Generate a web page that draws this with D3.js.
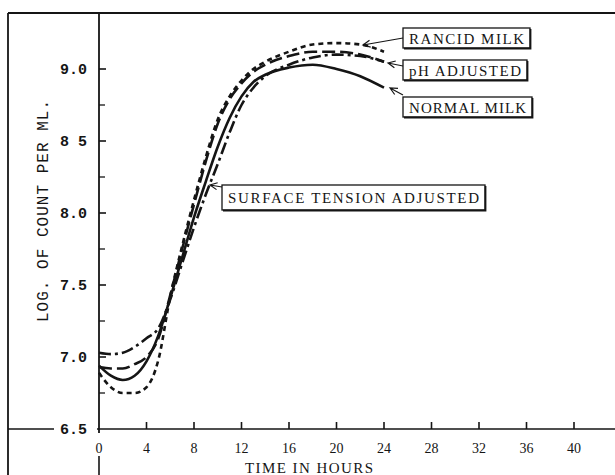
<!DOCTYPE html>
<html>
<head>
<meta charset="utf-8">
<script src="https://cdn.jsdelivr.net/npm/d3@7"></script>
<style>
  html, body { margin: 0; padding: 0; background: #fff; }
  svg { display: block; }
</style>
</head>
<body>
<script>
// ---- data ----
const hours   = [0, 1, 2, 3, 4, 5, 6, 7, 8, 9, 10, 11, 12, 13, 14, 16, 18, 20, 22, 24];
const rancid  = [6.89, 6.79, 6.75, 6.75, 6.79, 6.98, 7.42, 7.77, 8.09, 8.39, 8.65, 8.81, 8.92, 9.00, 9.05, 9.12, 9.17, 9.18, 9.17, 9.12];
const phAdj   = [6.93, 6.92, 6.92, 6.95, 7.00, 7.13, 7.43, 7.75, 8.06, 8.36, 8.62, 8.79, 8.90, 8.98, 9.03, 9.09, 9.12, 9.12, 9.10, 9.05];
const normal  = [6.94, 6.87, 6.84, 6.87, 6.97, 7.15, 7.41, 7.69, 7.97, 8.22, 8.46, 8.66, 8.81, 8.91, 8.96, 9.01, 9.03, 9.00, 8.95, 8.87];
const surface = [7.03, 7.02, 7.03, 7.07, 7.13, 7.20, 7.40, 7.65, 7.90, 8.13, 8.34, 8.56, 8.75, 8.87, 8.95, 9.03, 9.08, 9.10, 9.09, 9.05];

const seriesNames = ["RANCID MILK", "pH ADJUSTED", "NORMAL MILK", "SURFACE TENSION ADJUSTED"];
const xTickValues = [0, 4, 8, 12, 16, 20, 24, 28, 32, 36, 40];
const yTickValues = [6.5, 7.0, 7.5, 8.0, 8.5, 9.0];
const yTickLabels = ["6.5", "7.0", "7.5", "8.0", "8 5", "9.0"];
const yMinorTicks = [6.75, 7.25, 7.75, 8.25, 8.75];
const xTitle = "TIME IN HOURS";
const yTitle = "LOG. OF COUNT PER ML.";

// ---- layout ----
const W = 615, H = 475;
const ink = "#151515";
const svg = d3.select("body").append("svg").attr("width", W).attr("height", H);
svg.append("rect").attr("width", W).attr("height", H).attr("fill", "#fff");

const x = d3.scaleLinear().domain([0, 40]).range([99, 574]);
const y = d3.scaleLinear().domain([6.5, 9.0]).range([429, 69]);

// frame
svg.append("line").attr("x1", 8).attr("x2", W).attr("y1", 13).attr("y2", 13).attr("stroke", ink).attr("stroke-width", 1.8);
svg.append("line").attr("x1", 8).attr("x2", 8).attr("y1", 13).attr("y2", H).attr("stroke", ink).attr("stroke-width", 1.8);

// axes lines
svg.append("line").attr("x1", x(0)).attr("x2", x(0)).attr("y1", 13).attr("y2", y(6.5) + 4).attr("stroke", ink).attr("stroke-width", 1.8);
svg.append("line").attr("x1", x(0)).attr("x2", x(0)).attr("y1", 456).attr("y2", H).attr("stroke", ink).attr("stroke-width", 1.6);
svg.append("line").attr("x1", x(0) - 2).attr("x2", W).attr("y1", y(6.5)).attr("y2", y(6.5)).attr("stroke", ink).attr("stroke-width", 1.6);
svg.append("line").attr("x1", 8).attr("x2", 54).attr("y1", y(6.5)).attr("y2", y(6.5)).attr("stroke", ink).attr("stroke-width", 1.6);

// y ticks
svg.selectAll(".ytick").data(yTickValues.slice(1)).enter().append("line")
  .attr("x1", x(0)).attr("x2", x(0) + 7)
  .attr("y1", d => y(d)).attr("y2", d => y(d))
  .attr("stroke", ink).attr("stroke-width", 1.6);
svg.selectAll(".ymin").data(yMinorTicks).enter().append("line")
  .attr("x1", x(0)).attr("x2", x(0) + 6)
  .attr("y1", d => y(d)).attr("y2", d => y(d))
  .attr("stroke", ink).attr("stroke-width", 1.3);
svg.selectAll(".ylab").data(yTickValues).enter().append("text")
  .attr("x", 87).attr("y", d => y(d) + 5)
  .attr("text-anchor", "end")
  .attr("font-family", "'Liberation Mono', 'DejaVu Sans Mono', monospace")
  .attr("font-size", 15).attr("font-weight", "bold").attr("fill", ink)
  .text((d, i) => yTickLabels[i]);

// x ticks
svg.selectAll(".xtick").data(xTickValues.slice(1)).enter().append("line")
  .attr("x1", d => x(d)).attr("x2", d => x(d))
  .attr("y1", y(6.5)).attr("y2", y(6.5) - 7)
  .attr("stroke", ink).attr("stroke-width", 1.6);
svg.selectAll(".xlab").data(xTickValues).enter().append("text")
  .attr("x", d => x(d)).attr("y", 453)
  .attr("text-anchor", "middle")
  .attr("font-family", "'Liberation Serif', serif")
  .attr("font-size", 14).attr("fill", ink)
  .text(d => d);

// axis titles
svg.append("text").attr("x", 309).attr("y", 473)
  .attr("text-anchor", "middle")
  .attr("font-family", "'Liberation Serif', serif")
  .attr("font-size", 15).attr("fill", ink)
  .attr("textLength", 128).attr("lengthAdjust", "spacing")
  .text(xTitle);
svg.append("text")
  .attr("transform", "translate(48,211) rotate(-90)")
  .attr("text-anchor", "middle")
  .attr("font-family", "'Liberation Mono', 'DejaVu Sans Mono', monospace")
  .attr("font-size", 16).attr("fill", ink)
  .attr("textLength", 222).attr("lengthAdjust", "spacing")
  .text(yTitle);

// curves
const series = [
  { vals: rancid,  dash: "5,4" },
  { vals: phAdj,   dash: "13,5" },
  { vals: normal,  dash: null },
  { vals: surface, dash: "12,4,3,4" }
];
const line = d3.line()
  .x((d, i) => x(hours[i]))
  .y(d => y(d))
  .curve(d3.curveMonotoneX);
series.forEach(s => {
  svg.append("path").datum(s.vals)
    .attr("d", line)
    .attr("fill", "none")
    .attr("stroke", ink)
    .attr("stroke-width", 2.6)
    .attr("stroke-dasharray", s.dash);
});

// annotations (label boxes + arrows)
const boxes = [
  { name: seriesNames[0], bx: 403, by: 28, bw: 127, bh: 20, tail: [403, 38], tip: [363, 45] },
  { name: seriesNames[1], bx: 403, by: 60, bw: 124, bh: 20, tail: [403, 66], tip: [388, 63] },
  { name: seriesNames[2], bx: 403, by: 97, bw: 129, bh: 20, tail: [403, 95], tip: [390, 88] },
  { name: seriesNames[3], bx: 222, by: 185, bw: 263, bh: 25, tail: [222, 187], tip: [210, 185] }
];
boxes.forEach(b => {
  svg.append("rect").attr("x", b.bx).attr("y", b.by).attr("width", b.bw).attr("height", b.bh)
    .attr("fill", "#fff").attr("stroke", ink).attr("stroke-width", 1.3);
  svg.append("path")
    .attr("d", `M${b.bx + b.bw + 0.5},${b.by + 1}V${b.by + b.bh + 0.5}H${b.bx + 1}`)
    .attr("fill", "none").attr("stroke", ink).attr("stroke-width", 1.8);
  const pad = 6;
  svg.append("text")
    .attr("x", b.bx + pad).attr("y", b.by + b.bh / 2 + 5.5)
    .attr("font-family", "'Liberation Serif', serif")
    .attr("font-size", 15).attr("fill", ink)
    .attr("textLength", b.bw - 2 * pad).attr("lengthAdjust", "spacing")
    .text(b.name);
  // arrow
  const [x1, y1] = b.tail, [x2, y2] = b.tip;
  const ang = Math.atan2(y1 - y2, x1 - x2);
  const L = 8, a = 0.45;
  const p1 = [x2 + L * Math.cos(ang + a), y2 + L * Math.sin(ang + a)];
  const p2 = [x2 + L * Math.cos(ang - a), y2 + L * Math.sin(ang - a)];
  svg.append("path")
    .attr("d", `M${x1},${y1}L${x2},${y2}M${p1[0]},${p1[1]}L${x2},${y2}L${p2[0]},${p2[1]}`)
    .attr("fill", "none").attr("stroke", ink).attr("stroke-width", 1.2);
});
</script>
</body>
</html>
